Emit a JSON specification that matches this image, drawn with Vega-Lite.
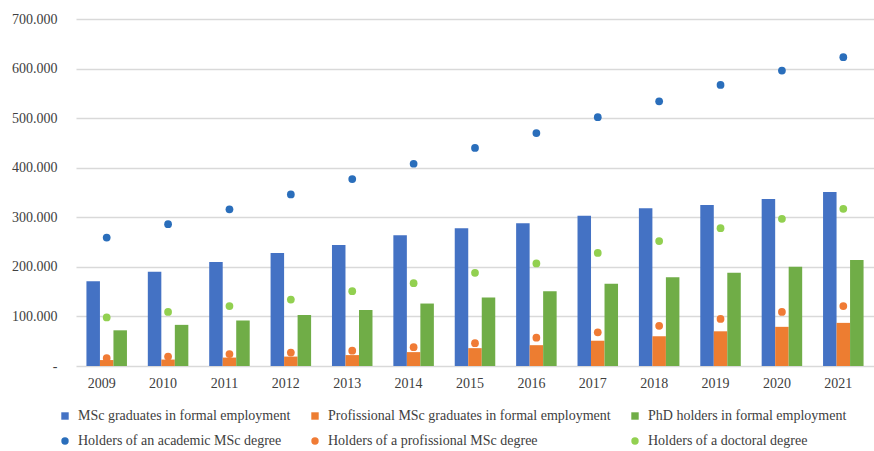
{
  "$schema": "https://vega.github.io/schema/vega-lite/v6.json",
  "width": 798,
  "height": 347,
  "autosize": {"type": "none"},
  "padding": {"left": 76, "top": 19, "right": 0, "bottom": 85},
  "background": "white",
  "config": {
    "view": {"stroke": null},
    "font": "Liberation Serif, Times New Roman, serif",
    "axis": {"labelFont": "Liberation Serif, Times New Roman, serif", "labelFontSize": 14, "labelColor": "#404040"},
    "style": {"guide-label": {"font": "Liberation Serif, Times New Roman, serif"}}
  },
  "datasets": {
    "bars": [
      {"year": "2009", "series": "MSc graduates in formal employment", "value": 171000},
      {"year": "2010", "series": "MSc graduates in formal employment", "value": 190000},
      {"year": "2011", "series": "MSc graduates in formal employment", "value": 210000},
      {"year": "2012", "series": "MSc graduates in formal employment", "value": 228000},
      {"year": "2013", "series": "MSc graduates in formal employment", "value": 244000},
      {"year": "2014", "series": "MSc graduates in formal employment", "value": 264000},
      {"year": "2015", "series": "MSc graduates in formal employment", "value": 278000},
      {"year": "2016", "series": "MSc graduates in formal employment", "value": 288000},
      {"year": "2017", "series": "MSc graduates in formal employment", "value": 303000},
      {"year": "2018", "series": "MSc graduates in formal employment", "value": 318000},
      {"year": "2019", "series": "MSc graduates in formal employment", "value": 325000},
      {"year": "2020", "series": "MSc graduates in formal employment", "value": 337000},
      {"year": "2021", "series": "MSc graduates in formal employment", "value": 351000},
      {"year": "2009", "series": "Profissional MSc graduates in formal employment", "value": 12000},
      {"year": "2010", "series": "Profissional MSc graduates in formal employment", "value": 13000},
      {"year": "2011", "series": "Profissional MSc graduates in formal employment", "value": 17000},
      {"year": "2012", "series": "Profissional MSc graduates in formal employment", "value": 19000},
      {"year": "2013", "series": "Profissional MSc graduates in formal employment", "value": 22000},
      {"year": "2014", "series": "Profissional MSc graduates in formal employment", "value": 28000},
      {"year": "2015", "series": "Profissional MSc graduates in formal employment", "value": 36000},
      {"year": "2016", "series": "Profissional MSc graduates in formal employment", "value": 42000},
      {"year": "2017", "series": "Profissional MSc graduates in formal employment", "value": 51000},
      {"year": "2018", "series": "Profissional MSc graduates in formal employment", "value": 60000},
      {"year": "2019", "series": "Profissional MSc graduates in formal employment", "value": 70000},
      {"year": "2020", "series": "Profissional MSc graduates in formal employment", "value": 79000},
      {"year": "2021", "series": "Profissional MSc graduates in formal employment", "value": 87000},
      {"year": "2009", "series": "PhD holders in formal employment", "value": 72000},
      {"year": "2010", "series": "PhD holders in formal employment", "value": 83000},
      {"year": "2011", "series": "PhD holders in formal employment", "value": 92000},
      {"year": "2012", "series": "PhD holders in formal employment", "value": 103000},
      {"year": "2013", "series": "PhD holders in formal employment", "value": 113000},
      {"year": "2014", "series": "PhD holders in formal employment", "value": 126000},
      {"year": "2015", "series": "PhD holders in formal employment", "value": 138000},
      {"year": "2016", "series": "PhD holders in formal employment", "value": 151000},
      {"year": "2017", "series": "PhD holders in formal employment", "value": 166000},
      {"year": "2018", "series": "PhD holders in formal employment", "value": 179000},
      {"year": "2019", "series": "PhD holders in formal employment", "value": 188000},
      {"year": "2020", "series": "PhD holders in formal employment", "value": 200000},
      {"year": "2021", "series": "PhD holders in formal employment", "value": 214000}
    ],
    "points": [
      {"year": "2009", "series": "Holders of an academic MSc degree", "value": 259000},
      {"year": "2010", "series": "Holders of an academic MSc degree", "value": 286000},
      {"year": "2011", "series": "Holders of an academic MSc degree", "value": 316000},
      {"year": "2012", "series": "Holders of an academic MSc degree", "value": 346000},
      {"year": "2013", "series": "Holders of an academic MSc degree", "value": 377000},
      {"year": "2014", "series": "Holders of an academic MSc degree", "value": 408000},
      {"year": "2015", "series": "Holders of an academic MSc degree", "value": 440000},
      {"year": "2016", "series": "Holders of an academic MSc degree", "value": 470000},
      {"year": "2017", "series": "Holders of an academic MSc degree", "value": 502000},
      {"year": "2018", "series": "Holders of an academic MSc degree", "value": 534000},
      {"year": "2019", "series": "Holders of an academic MSc degree", "value": 567000},
      {"year": "2020", "series": "Holders of an academic MSc degree", "value": 596000},
      {"year": "2021", "series": "Holders of an academic MSc degree", "value": 623000},
      {"year": "2009", "series": "Holders of a profissional MSc degree", "value": 16000},
      {"year": "2010", "series": "Holders of a profissional MSc degree", "value": 19000},
      {"year": "2011", "series": "Holders of a profissional MSc degree", "value": 24000},
      {"year": "2012", "series": "Holders of a profissional MSc degree", "value": 27000},
      {"year": "2013", "series": "Holders of a profissional MSc degree", "value": 31000},
      {"year": "2014", "series": "Holders of a profissional MSc degree", "value": 38000},
      {"year": "2015", "series": "Holders of a profissional MSc degree", "value": 46000},
      {"year": "2016", "series": "Holders of a profissional MSc degree", "value": 57000},
      {"year": "2017", "series": "Holders of a profissional MSc degree", "value": 68000},
      {"year": "2018", "series": "Holders of a profissional MSc degree", "value": 81000},
      {"year": "2019", "series": "Holders of a profissional MSc degree", "value": 95000},
      {"year": "2020", "series": "Holders of a profissional MSc degree", "value": 109000},
      {"year": "2021", "series": "Holders of a profissional MSc degree", "value": 121000},
      {"year": "2009", "series": "Holders of a doctoral degree", "value": 98000},
      {"year": "2010", "series": "Holders of a doctoral degree", "value": 109000},
      {"year": "2011", "series": "Holders of a doctoral degree", "value": 121000},
      {"year": "2012", "series": "Holders of a doctoral degree", "value": 134000},
      {"year": "2013", "series": "Holders of a doctoral degree", "value": 151000},
      {"year": "2014", "series": "Holders of a doctoral degree", "value": 167000},
      {"year": "2015", "series": "Holders of a doctoral degree", "value": 188000},
      {"year": "2016", "series": "Holders of a doctoral degree", "value": 207000},
      {"year": "2017", "series": "Holders of a doctoral degree", "value": 228000},
      {"year": "2018", "series": "Holders of a doctoral degree", "value": 252000},
      {"year": "2019", "series": "Holders of a doctoral degree", "value": 278000},
      {"year": "2020", "series": "Holders of a doctoral degree", "value": 297000},
      {"year": "2021", "series": "Holders of a doctoral degree", "value": 317000}
    ]
  },
  "encoding": {
    "x": {
      "field": "year", "type": "nominal", "title": null,
      "scale": {"paddingInner": 0.34, "paddingOuter": 0.17},
      "axis": {"labelAngle": 0, "domain": false, "ticks": false, "labelPadding": 10, "labelOffset": -5, "grid": false,
        "labelFont": "Liberation Serif, Times New Roman, serif", "labelFontSize": 14, "labelColor": "#404040"}
    },
    "y": {
      "field": "value", "type": "quantitative", "title": null,
      "scale": {"domain": [0, 700000], "nice": false},
      "axis": {
        "values": [0, 100000, 200000, 300000, 400000, 500000, 600000, 700000],
        "labelExpr": "datum.value == 0 ? '-' : replace(format(datum.value, ','), ',', '.')",
        "domain": false, "ticks": false, "labelPadding": 19,
        "labelFont": "Liberation Serif, Times New Roman, serif", "labelFontSize": 14, "labelColor": "#404040",
        "gridColor": "#d9d9d9", "gridWidth": 1.5
      }
    },
    "color": {
      "field": "series", "type": "nominal", "title": null,
      "scale": {
        "domain": [
          "MSc graduates in formal employment",
          "Profissional MSc graduates in formal employment",
          "PhD holders in formal employment",
          "Holders of an academic MSc degree",
          "Holders of a profissional MSc degree",
          "Holders of a doctoral degree"
        ],
        "range": ["#4472C4", "#ED7D31", "#70AD47", "#2A6EBB", "#F07B35", "#92D050"]
      },
      "legend": {
        "orient": "none", "direction": "horizontal", "legendX": -18, "legendY": 390,
        "columns": 3, "columnPadding": 17, "rowPadding": 11, "labelLimit": 400,
        "labelExpr": "datum.label + ((datum.label == 'MSc graduates in formal employment' || datum.label == 'Holders of an academic MSc degree') ? '       ' : '')",
        "labelFont": "Liberation Serif, Times New Roman, serif", "labelFontSize": 14, "labelColor": "#404040",
        "symbolSize": 55, "labelOffset": 6, "symbolStrokeWidth": 0
      }
    }
  },
  "layer": [
    {
      "data": {"name": "bars"},
      "mark": {"type": "bar"},
      "encoding": {
        "xOffset": {
          "field": "series", "type": "nominal",
          "scale": {"domain": ["MSc graduates in formal employment", "Profissional MSc graduates in formal employment", "PhD holders in formal employment"], "paddingInner": 0, "paddingOuter": 0}
        }
      }
    },
    {
      "data": {"name": "points"},
      "mark": {"type": "point", "filled": true, "opacity": 1, "size": 60},
      "encoding": {
        "shape": {
          "field": "series", "type": "nominal", "title": null,
          "scale": {
            "domain": [
              "MSc graduates in formal employment",
              "Profissional MSc graduates in formal employment",
              "PhD holders in formal employment",
              "Holders of an academic MSc degree",
              "Holders of a profissional MSc degree",
              "Holders of a doctoral degree"
            ],
            "range": ["square", "square", "square", "circle", "circle", "circle"]
          }
        }
      }
    }
  ]
}
